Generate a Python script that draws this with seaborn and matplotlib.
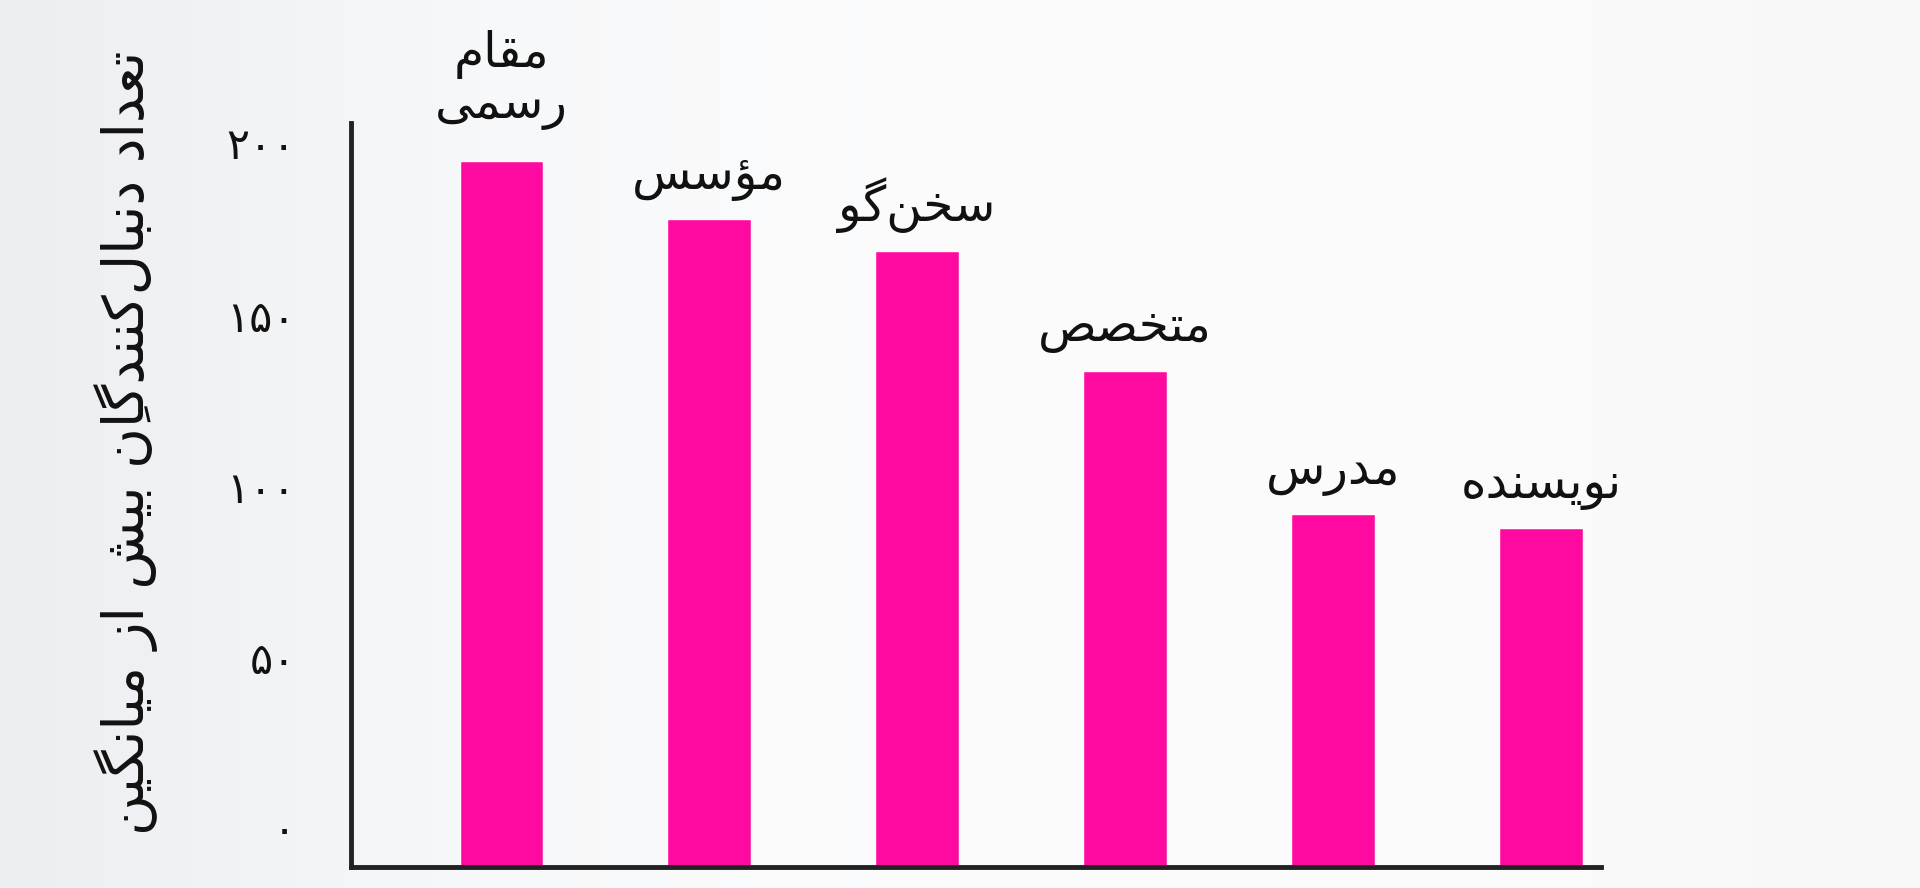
import numpy as np
import pandas as pd
import matplotlib
matplotlib.use('Agg')
import matplotlib.pyplot as plt
import matplotlib.transforms as mtransforms
from matplotlib.colors import LinearSegmentedColormap
import seaborn as sns

# data
categories = ['مقام\nرسمی', 'مؤسس', 'سخن‌گو', 'متخصص', 'مدرس', 'نویسنده']
followers = [195, 179, 170, 137, 97.5, 93.5]
ytick_values = [0, 50, 100, 150, 200]
ytick_labels = ['۰', '۵۰', '۱۰۰', '۱۵۰', '۲۰۰']
y_title = 'تعداد دنبال‌کنندگانِ بیش از میانگین'

# matplotlib has no arabic shaping, so do a small one by hand
FORMS = {  # isolated, final, initial, medial
    'ا': ('\uFE8D', '\uFE8E', None, None),
    'ؤ': ('\uFE85', '\uFE86', None, None),
    'ب': ('\uFE8F', '\uFE90', '\uFE91', '\uFE92'),
    'ت': ('\uFE95', '\uFE96', '\uFE97', '\uFE98'),
    'خ': ('\uFEA5', '\uFEA6', '\uFEA7', '\uFEA8'),
    'د': ('\uFEA9', '\uFEAA', None, None),
    'ر': ('\uFEAD', '\uFEAE', None, None),
    'ز': ('\uFEAF', '\uFEB0', None, None),
    'س': ('\uFEB1', '\uFEB2', '\uFEB3', '\uFEB4'),
    'ش': ('\uFEB5', '\uFEB6', '\uFEB7', '\uFEB8'),
    'ص': ('\uFEB9', '\uFEBA', '\uFEBB', '\uFEBC'),
    'ع': ('\uFEC9', '\uFECA', '\uFECB', '\uFECC'),
    'ق': ('\uFED5', '\uFED6', '\uFED7', '\uFED8'),
    'ل': ('\uFEDD', '\uFEDE', '\uFEDF', '\uFEE0'),
    'م': ('\uFEE1', '\uFEE2', '\uFEE3', '\uFEE4'),
    'ن': ('\uFEE5', '\uFEE6', '\uFEE7', '\uFEE8'),
    'ه': ('\uFEE9', '\uFEEA', '\uFEEB', '\uFEEC'),
    'و': ('\uFEED', '\uFEEE', None, None),
    'ی': ('\uFBFC', '\uFBFD', '\uFBFE', '\uFBFF'),
    'ک': ('\uFB8E', '\uFB8F', '\uFB90', '\uFB91'),
    'گ': ('\uFB92', '\uFB93', '\uFB94', '\uFB95'),
}
MARKS = {'\u064E', '\u064F', '\u0650', '\u0651', '\u0652'}


def shape_line(s):
    chars = list(s)
    n = len(chars)

    def neighbour(i, step):
        j = i + step
        while 0 <= j < n and chars[j] in MARKS:
            j += step
        return chars[j] if 0 <= j < n else None

    clusters = []
    for i, c in enumerate(chars):
        if c in MARKS:
            if clusters:
                clusters[-1] += c
            continue
        if c == '\u200c':
            continue
        if c not in FORMS:
            clusters.append(c)
            continue
        p = neighbour(i, -1)
        nx = neighbour(i, 1)
        join_prev = p in FORMS and FORMS[p][2] is not None
        join_next = nx in FORMS and FORMS[c][2] is not None
        iso, fin, ini, med = FORMS[c]
        if join_prev and join_next:
            g = med
        elif join_prev:
            g = fin
        elif join_next:
            g = ini
        else:
            g = iso
        clusters.append(g)
    return ''.join(clusters[::-1])


def rtl(s):
    return '\n'.join(shape_line(line) for line in s.split('\n'))


df = pd.DataFrame({'role': [rtl(c) for c in categories], 'followers': followers})

sns.set_style('white')
plt.rcParams['font.family'] = ['DejaVu Sans']

fig = plt.figure(figsize=(19.2, 8.88), dpi=100)
fig.patch.set_facecolor('#fafafb')

# faint grey wash on the left like the original slide
bg = fig.add_axes([0, 0, 1, 1], zorder=-1)
grad = np.linspace(0, 1, 400).reshape(1, -1)
wash = LinearSegmentedColormap.from_list('wash', ['#eceef1', '#f7f8f9', '#fcfcfd', '#fbfbfc', '#f8f8f9'])
bg.imshow(grad, aspect='auto', cmap=wash, extent=[0, 1, 0, 1])
bg.axis('off')

ax = fig.add_axes([0.183, 0.024, 0.651, 0.8375])
ax.set_facecolor('none')

sns.barplot(data=df, x='role', y='followers', color='#ff0aa0', width=0.4,
            saturation=1, ax=ax)

for i, v in enumerate(followers):
    extra = 9 * df['role'][i].count('\n')
    ax.annotate(df['role'][i], (i, v), xytext=(0, 13 + extra), textcoords='offset points',
                ha='center', va='bottom', fontsize=35, color='#111111',
                linespacing=1.05)

ax.set_xlim(-0.72, 5.29)
ax.set_ylim(0, 205.5)
ax.set_xticks([])
ax.set_yticks(ytick_values)
ax.set_yticklabels(ytick_labels, fontsize=31, color='#111111')
ax.tick_params(axis='y', length=0, pad=40)

# the slide's tick numbers sit evenly spaced, a little above the true grid
lift = [29, 20, 13, 6, 0]
for lab, dy in zip(ax.get_yticklabels(), lift):
    lab.set_transform(lab.get_transform() +
                      mtransforms.ScaledTranslation(0, dy / 72, fig.dpi_scale_trans))

ax.set_xlabel('')
ax.set_ylabel(rtl(y_title), fontsize=40, color='#111111', va='center')
ax.yaxis.set_label_coords(-0.180, 0.57)

for side in ['top', 'right']:
    ax.spines[side].set_visible(False)
for side in ['left', 'bottom']:
    ax.spines[side].set_color('#222222')
    ax.spines[side].set_linewidth(3.5)

plt.savefig('out.png', dpi=100, facecolor=fig.get_facecolor())
